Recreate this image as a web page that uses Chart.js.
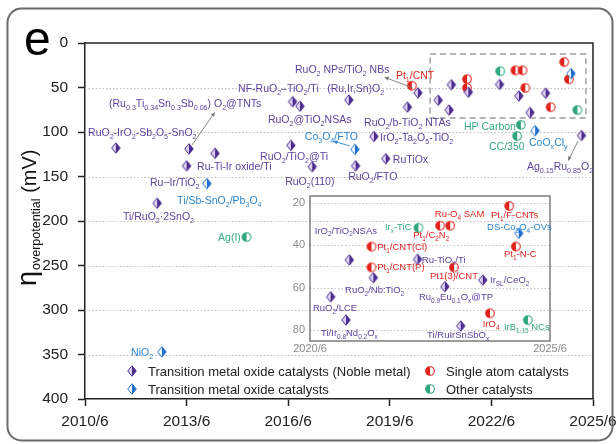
<!DOCTYPE html>
<html>
<head>
<meta charset="utf-8">
<script src="https://cdn.jsdelivr.net/npm/chart.js@4.4.1/dist/chart.umd.min.js"></script>
<style>
  html, body { margin: 0; padding: 0; background: #fff; }
  #wrap { position: relative; width: 616px; height: 444px; overflow: hidden; }
  #main { position: absolute; left: 0; top: 0; }
  #inset { position: absolute; left: 280px; top: 186px; }
</style>
</head>
<body>
<div id="wrap">
  <canvas id="main" width="616" height="444"></canvas>
  <canvas id="inset" width="300" height="176"></canvas>
</div>
<script>
// ---------------- data (date as decimal year, overpotential in mV) ----------------
const seriesLabels = [
  'Transition metal oxide catalysts (Noble metal)',
  'Transition metal oxide catalysts',
  'Single atom catalysts',
  'Other catalysts'
];

const nobleNames = ['RuO2-IrO2-Sb2O5-SnO2', '(Ru0.3Ti0.34Sn0.3Sb0.06)O2@TNTs', 'Ru-Ir/TiO2', 'Ru-Ti-Ir oxide/Ti',
  'Ti/RuO2·2SnO2', 'NF-RuO2-TiO2/Ti', 'RuO2@TiO2NSAs', 'RuO2/TiO2@Ti', 'RuO2(110)', '(Ru,Ir,Sn)O2', 'RuO2/FTO',
  'IrO2-Ta2O5-TiO2', 'RuTiOx', 'RuO2/b-TiO2 NTAs', 'RuO2 NPs/TiO2 NBs', 'RuO2/LCE', 'Ti/Ir0.8Nd0.2Ox',
  'IrO2/TiO2NSAs', 'RuO2/Nb:TiO2', 'Ru-TiOx/Ti', 'Ru0.9Eu0.1Ox@TP', 'Ti/RuIrSnSbOx', 'IrSL/CeO2', 'Ag0.15Ru0.85O2'];
const nobleDates = [2011.41, 2013.57, 2014.34, 2013.50, 2012.63, 2016.63, 2016.85, 2016.58, 2017.21, 2018.29, 2018.49,
  2019.03, 2019.38, 2020.02, 2020.33, 2020.93, 2021.25, 2021.32, 2021.82, 2022.74, 2023.31, 2023.64, 2024.10, 2025.16];
const nobleEta = [118, 119, 124, 138, 180, 66, 71, 115, 139, 64, 138,
  105, 130, 72, 56, 64.3, 75.3, 46.9, 55.3, 46.6, 59.5, 78.1, 56.4, 104];

const tmoNames = ['NiO2', 'Ti/Sb-SnO2/Pb3O4', 'Co3O4/FTO', 'CoOxCly', 'DS-Co3O4-OVs'];
const tmoDates = [2012.77, 2014.10, 2018.47, 2023.79, 2024.85];
const tmoEta = [347, 158, 119.5, 98.5, 34.3];

const sacNames = ['Pt1/CNT', 'Pt1/CNT(Cl)', 'Pt1/CNT(P)', 'Pt1/C2N2', 'Ru-O4 SAM', 'Pt1(3)/CNT', 'IrO4', 'Pt1/F-CNTs', 'Pt1-N-C'];
const sacDates = [2020.15, 2021.78, 2021.78, 2023.21, 2023.42, 2023.50, 2024.25, 2024.65, 2024.79];
const sacEta = [48, 40.6, 50.4, 30.7, 30.7, 50.4, 72.1, 21.4, 40.6];

const otherNames = ['Ag(I)', 'Irx-TiC', 'CC/350', 'HP Carbon', 'IrB1.15 NCs'];
const otherDates = [2015.27, 2022.76, 2023.26, 2023.37, 2025.04];
const otherEta = [218, 31.7, 104.5, 92, 75.3];

// axis ticks
const xTickDates = [2010.5, 2013.5, 2016.5, 2019.5, 2022.5, 2025.5];
const xTickLabels = ['2010/6', '2013/6', '2016/6', '2019/6', '2022/6', '2025/6'];
const yTickValues = [0, 50, 100, 150, 200, 250, 300, 350, 400];
const insetXTickDates = [2020.5, 2025.5];
const insetXTickLabels = ['2020/6', '2025/6'];
const insetYTickValues = [20, 40, 60, 80];

// ---------------- styling ----------------
const FONT = '"Liberation Sans", Arial, Helvetica, sans-serif';
const STYLE = {
  noble: { dark: '#4b2b8e', light: '#ddd3f1', text: '#5d429d' },
  tmo:   { dark: '#1f6fd1', light: '#ffffff', text: '#2b86cf' },
  sac:   { dark: '#e2231c', light: '#ffffff', text: '#e0251f' },
  other: { dark: '#2ea57e', light: '#ffffff', text: '#35a986' }
};

function diamondMarker(dark, light) {
  const w = 8.5, h = 10.5;
  const c = document.createElement('canvas');
  c.width = 12; c.height = 14;
  const g = c.getContext('2d');
  const cx = c.width / 2, cy = c.height / 2;
  const T = [cx, cy - h / 2], R = [cx + w / 2, cy], B = [cx, cy + h / 2], L = [cx - w / 2, cy];
  g.fillStyle = light;
  g.beginPath(); g.moveTo(T[0], T[1]); g.lineTo(B[0], B[1]); g.lineTo(L[0], L[1]); g.closePath(); g.fill();
  g.fillStyle = dark;
  g.beginPath(); g.moveTo(T[0], T[1]); g.lineTo(R[0], R[1]); g.lineTo(B[0], B[1]); g.closePath(); g.fill();
  g.strokeStyle = dark; g.lineWidth = 1;
  g.beginPath(); g.moveTo(T[0], T[1]); g.lineTo(R[0], R[1]); g.lineTo(B[0], B[1]); g.lineTo(L[0], L[1]); g.closePath(); g.stroke();
  return c;
}

function circleMarker(color) {
  const c = document.createElement('canvas');
  c.width = 12; c.height = 12;
  const g = c.getContext('2d');
  const cx = 6, cy = 6, r = 4.3;
  g.fillStyle = '#fff';
  g.beginPath(); g.arc(cx, cy, r, 0, Math.PI * 2); g.fill();
  g.fillStyle = color;
  g.beginPath(); g.arc(cx, cy, r, Math.PI / 2, Math.PI * 1.5); g.closePath(); g.fill();
  g.strokeStyle = color; g.lineWidth = 1.1;
  g.beginPath(); g.arc(cx, cy, r, 0, Math.PI * 2); g.stroke();
  return c;
}

const groups = [
  { label: seriesLabels[0], dates: nobleDates, eta: nobleEta, marker: diamondMarker(STYLE.noble.dark, STYLE.noble.light) },
  { label: seriesLabels[1], dates: tmoDates, eta: tmoEta, marker: diamondMarker(STYLE.tmo.dark, STYLE.tmo.light) },
  { label: seriesLabels[2], dates: sacDates, eta: sacEta, marker: circleMarker(STYLE.sac.dark) },
  { label: seriesLabels[3], dates: otherDates, eta: otherEta, marker: circleMarker(STYLE.other.dark) }
];

const INSET_X = [2020.5, 2025.5];
const INSET_Y = [16.7, 85.2];

function toPoints(dates, eta, keep) {
  const pts = dates.map((d, i) => ({ x: d, y: eta[i] }));
  return keep ? pts.filter(keep) : pts;
}

// text annotations: [text, date, eta, style]; "_{...}" marks a subscript
const mainNotes = [
  ['RuO_{2}-IrO_{2}-Sb_{2}O_{5}-SnO_{2}', 2010.59, 100, 'noble'],
  ['(Ru_{0.3}Ti_{0.34}Sn_{0.3}Sb_{0.06}) O_{2}@TNTs', 2011.21, 67.4, 'noble'],
  ['Ru-Ti-Ir oxide/Ti', 2013.81, 138.2, 'noble'],
  ['Ru\u2212Ir/TiO_{2}', 2012.42, 156.2, 'noble'],
  ['Ti/Sb-SnO_{2}/Pb_{3}O_{4}', 2013.22, 176.4, 'tmo'],
  ['Ti/RuO_{2}\u00b72SnO_{2}', 2011.62, 194.4, 'noble'],
  ['Ag(I)', 2014.43, 218, 'other'],
  ['NiO_{2}', 2011.86, 347.2, 'tmo'],
  ['NF-RuO_{2}\u2013TiO_{2}/Ti', 2015.02, 50.6, 'noble'],
  ['RuO_{2} NPs/TiO_{2} NBs', 2016.70, 29.2, 'noble'],
  ['(Ru,Ir,Sn)O_{2}', 2017.65, 50.6, 'noble'],
  ['Pt_{1}/CNT', 2019.68, 36, 'sac'],
  ['RuO_{2}@TiO_{2}NSAs', 2015.90, 85.4, 'noble'],
  ['RuO_{2}/b-TiO_{2} NTAs', 2018.74, 88.8, 'noble'],
  ['Co_{3}O_{4}/FTO', 2016.99, 104.5, 'tmo'],
  ['IrO_{2}-Ta_{2}O_{5}-TiO_{2}', 2019.21, 105.6, 'noble'],
  ['RuO_{2}/TiO_{2}@Ti', 2015.67, 127, 'noble'],
  ['RuO_{2}(110)', 2016.41, 155, 'noble'],
  ['RuO_{2}/FTO', 2018.27, 149.4, 'noble'],
  ['RuTiOx', 2019.59, 130.3, 'noble'],
  ['HP Carbon', 2021.69, 93.3, 'other'],
  ['CC/350', 2022.43, 115.7, 'other'],
  ['CoO_{x}Cl_{y}', 2023.61, 111.2, 'tmo'],
  ['Ag_{0.15}Ru_{0.85}O_{2}', 2023.55, 138.2, 'noble']
];

const insetNotes = [
  ['IrO_{2}/TiO_{2}NSAs', 2020.60, 32.8, 'noble'],
  ['Ir_{x}-TiC', 2022.06, 31.3, 'other'],
  ['Ru-O_{4} SAM', 2023.10, 25.2, 'sac'],
  ['Pt_{1}/C_{2}N_{2}', 2022.65, 35.1, 'sac'],
  ['Pt_{1}/F-CNTs', 2024.27, 25.7, 'sac'],
  ['DS-Co_{3}O_{4}-OVs', 2024.19, 31.3, 'tmo'],
  ['Pt_{1}-N-C', 2024.54, 44.1, 'sac'],
  ['Pt_{1}/CNT(Cl)', 2021.90, 40.8, 'sac'],
  ['Ru-TiO_{x}/Ti', 2022.83, 46.5, 'noble'],
  ['Pt_{1}/CNT(P)', 2021.90, 50.2, 'sac'],
  ['Pt1(3)/CNT', 2023.00, 54.5, 'sac'],
  ['RuO_{2}/Nb:TiO_{2}', 2021.23, 61.1, 'noble'],
  ['Ir_{SL}/CeO_{2}', 2024.25, 56.4, 'noble'],
  ['Ru_{0.9}Eu_{0.1}O_{x}@TP', 2022.77, 64.4, 'noble'],
  ['RuO_{2}/LCE', 2020.56, 69.6, 'noble'],
  ['Ti/Ir_{0.8}Nd_{0.2}O_{x}', 2020.73, 81.4, 'noble'],
  ['Ti/RuIrSnSbO_{x}', 2022.94, 82.4, 'noble'],
  ['IrO_{4}', 2024.10, 77.2, 'sac'],
  ['IrB_{1.15} NCs', 2024.54, 78.6, 'other']
];

// leader arrows: [fromDate, fromEta, toDate, toEta, colour]
const mainArrows = [
  [2013.66, 114.6, 2014.34, 77.5, '#7a7a7a'],
  [2020.18, 50.6, 2019.33, 38.2, '#7a7a7a'],
  [2018.32, 115.7, 2017.82, 110.1, '#2b86cf'],
  [2025.06, 110.1, 2024.76, 132.6, '#7a7a7a']
];

// region magnified in the inset
const zoomBox = { x0: 2020.69, x1: 2025.29, y0: 12.4, y1: 84.3 };

// ---------------- drawing helpers ----------------
function parseRich(s) {
  const parts = [];
  const re = /_\{([^}]*)\}/g;
  let last = 0, m;
  while ((m = re.exec(s))) {
    if (m.index > last) parts.push({ t: s.slice(last, m.index), sub: false });
    parts.push({ t: m[1], sub: true });
    last = re.lastIndex;
  }
  if (last < s.length) parts.push({ t: s.slice(last), sub: false });
  return parts;
}

function drawRich(ctx, s, x, yMid, size, color) {
  const parts = parseRich(s);
  const base = yMid + size * 0.36;
  ctx.save();
  ctx.fillStyle = color;
  ctx.textBaseline = 'alphabetic';
  ctx.textAlign = 'left';
  let cx = x;
  for (const p of parts) {
    const fs = p.sub ? size * 0.68 : size;
    ctx.font = fs + 'px ' + FONT;
    ctx.fillText(p.t, cx, base + (p.sub ? size * 0.28 : 0));
    cx += ctx.measureText(p.t).width;
  }
  ctx.restore();
}

function drawArrow(ctx, x0, y0, x1, y1, color) {
  const a = Math.atan2(y1 - y0, x1 - x0);
  ctx.save();
  ctx.strokeStyle = color; ctx.fillStyle = color; ctx.lineWidth = 0.9;
  ctx.beginPath(); ctx.moveTo(x0, y0); ctx.lineTo(x1 - 3 * Math.cos(a), y1 - 3 * Math.sin(a)); ctx.stroke();
  ctx.beginPath();
  ctx.moveTo(x1, y1);
  ctx.lineTo(x1 - 5 * Math.cos(a - 0.4), y1 - 5 * Math.sin(a - 0.4));
  ctx.lineTo(x1 - 5 * Math.cos(a + 0.4), y1 - 5 * Math.sin(a + 0.4));
  ctx.closePath(); ctx.fill();
  ctx.restore();
}

function dottedHLines(chart, values, color) {
  const { ctx, chartArea: a, scales: { y } } = chart;
  ctx.save();
  ctx.strokeStyle = color; ctx.lineWidth = 1; ctx.setLineDash([1.5, 2]);
  for (const v of values) {
    const py = Math.round(y.getPixelForValue(v)) + 0.5;
    ctx.beginPath(); ctx.moveTo(a.left, py); ctx.lineTo(a.right, py); ctx.stroke();
  }
  ctx.restore();
}

// ---------------- main chart ----------------
const mainDecor = {
  id: 'mainDecor',
  beforeDatasetsDraw(chart) {
    const { ctx, scales: { x, y } } = chart;
    dottedHLines(chart, yTickValues.filter(v => v > y.min && v < y.max), '#bdbdbd');
    // dashed frame of the magnified region
    ctx.save();
    ctx.strokeStyle = '#9a9a9a'; ctx.lineWidth = 1.4; ctx.setLineDash([6, 4]);
    const l = x.getPixelForValue(zoomBox.x0), r = x.getPixelForValue(zoomBox.x1);
    const t = y.getPixelForValue(zoomBox.y0), b = y.getPixelForValue(zoomBox.y1);
    ctx.strokeRect(l, t, r - l, b - t);
    ctx.restore();
  },
  afterDraw(chart) {
    const { ctx, chartArea: a, scales: { x, y } } = chart;
    // top and right frame
    ctx.save();
    ctx.strokeStyle = '#222'; ctx.lineWidth = 1.5;
    ctx.beginPath(); ctx.moveTo(a.left, a.top); ctx.lineTo(a.right, a.top); ctx.lineTo(a.right, a.bottom); ctx.stroke();
    ctx.restore();

    for (const [x0, y0, x1, y1, c] of mainArrows) {
      drawArrow(ctx, x.getPixelForValue(x0), y.getPixelForValue(y0), x.getPixelForValue(x1), y.getPixelForValue(y1), c);
    }
    for (const [t, d, v, s] of mainNotes) {
      drawRich(ctx, t, x.getPixelForValue(d), y.getPixelForValue(v), 10.5, STYLE[s].text);
    }

    // legend
    const rows = [[a.left + 47, 371, 0], [a.left + 47, 389, 1], [a.left + 345, 371, 2], [a.left + 345, 389, 3]];
    ctx.save();
    ctx.font = '13px ' + FONT; ctx.fillStyle = '#222'; ctx.textBaseline = 'middle'; ctx.textAlign = 'left';
    for (const [mx, my, i] of rows) {
      const m = groups[i].marker;
      ctx.drawImage(m, Math.round(mx - m.width / 2), Math.round(my - m.height / 2));
      ctx.fillText(chart.data.datasets[i].label, mx + 16, my + 1);
    }
    ctx.restore();

    // y-axis title: η_overpotential (mV)
    ctx.save();
    ctx.translate(36, 286);
    ctx.rotate(-Math.PI / 2);
    ctx.fillStyle = '#111'; ctx.textBaseline = 'alphabetic'; ctx.textAlign = 'left';
    ctx.font = '27px ' + FONT;
    ctx.fillText('\u03b7', 0, 0);
    let cx = ctx.measureText('\u03b7').width + 1;
    ctx.font = '12.5px ' + FONT;
    ctx.fillText('overpotential', cx, 4);
    cx += ctx.measureText('overpotential').width;
    ctx.font = '20px ' + FONT;
    ctx.fillText(' (mV)', cx, 0);
    ctx.restore();

    // panel letter
    ctx.save();
    ctx.font = '48px ' + FONT; ctx.fillStyle = '#000'; ctx.textBaseline = 'alphabetic';
    ctx.fillText('e', 24, 55);
    ctx.restore();

    // rounded panel frame
    ctx.save();
    ctx.strokeStyle = '#6a6a6a'; ctx.lineWidth = 2;
    ctx.beginPath(); ctx.roundRect(7.5, 8.5, 605, 432, 14); ctx.stroke();
    ctx.restore();
  }
};

new Chart(document.getElementById('main'), {
  type: 'scatter',
  data: {
    datasets: groups.map(g => ({
      label: g.label, data: toPoints(g.dates, g.eta), pointStyle: g.marker, pointRadius: 5, showLine: false
    }))
  },
  options: {
    responsive: false, animation: false, devicePixelRatio: 1,
    layout: { padding: { left: 0, top: 43, right: 23, bottom: 0 } },
    plugins: { legend: { display: false }, tooltip: { enabled: false } },
    scales: {
      x: {
        type: 'linear', min: 2010.5, max: 2025.5,
        afterBuildTicks: s => { s.ticks = xTickDates.map(v => ({ value: v })); },
        afterFit: s => { s.height = 45; s.paddingLeft = 0; s.paddingRight = 0; },
        ticks: {
          callback: v => xTickLabels[xTickDates.indexOf(v)],
          font: { size: 15.5, family: FONT }, color: '#222', padding: 6, maxRotation: 0, autoSkip: false
        },
        grid: { drawOnChartArea: false, drawTicks: true, tickLength: 7, tickWidth: 1.5, tickColor: '#222' },
        border: { display: true, color: '#222', width: 1.5 }
      },
      y: {
        type: 'linear', reverse: true, min: 0, max: 400,
        afterBuildTicks: s => { s.ticks = yTickValues.map(v => ({ value: v })); },
        afterFit: s => { s.width = 85; s.paddingTop = 0; s.paddingBottom = 0; },
        ticks: { font: { size: 15.5, family: FONT }, color: '#222', padding: 10 },
        grid: { drawOnChartArea: false, drawTicks: true, tickLength: 7, tickWidth: 1.5, tickColor: '#222' },
        border: { display: true, color: '#222', width: 1.5 }
      }
    }
  },
  plugins: [mainDecor]
});

// ---------------- inset ----------------
const inRange = p => p.x >= INSET_X[0] && p.x <= INSET_X[1] && p.y >= INSET_Y[0] && p.y <= INSET_Y[1];

const insetDecor = {
  id: 'insetDecor',
  beforeDatasetsDraw(chart) {
    dottedHLines(chart, insetYTickValues, '#c4c4c4');
  },
  afterDraw(chart) {
    const { ctx, chartArea: a, scales: { x, y } } = chart;
    ctx.save();
    ctx.strokeStyle = '#7c7c7c'; ctx.lineWidth = 1.5;
    ctx.strokeRect(a.left, a.top, a.right - a.left, a.bottom - a.top);
    ctx.restore();
    for (const [t, d, v, s] of insetNotes) {
      drawRich(ctx, t, x.getPixelForValue(d), y.getPixelForValue(v), 9.5, STYLE[s].text);
    }
  }
};

new Chart(document.getElementById('inset'), {
  type: 'scatter',
  data: {
    datasets: groups.map(g => ({
      label: g.label, data: toPoints(g.dates, g.eta, inRange), pointStyle: g.marker, pointRadius: 5, showLine: false
    }))
  },
  options: {
    responsive: false, animation: false, devicePixelRatio: 1,
    layout: { padding: { left: 0, top: 10, right: 30, bottom: 0 } },
    plugins: { legend: { display: false }, tooltip: { enabled: false } },
    scales: {
      x: {
        type: 'linear', min: INSET_X[0], max: INSET_X[1],
        afterBuildTicks: s => { s.ticks = insetXTickDates.map(v => ({ value: v })); },
        afterFit: s => { s.height = 21; s.paddingLeft = 0; s.paddingRight = 0; },
        ticks: {
          callback: v => insetXTickLabels[insetXTickDates.indexOf(v)],
          font: { size: 11, family: FONT }, color: '#8a8a8a', padding: 1.5, maxRotation: 0, autoSkip: false
        },
        grid: { drawOnChartArea: false, drawTicks: false },
        border: { display: false }
      },
      y: {
        type: 'linear', reverse: true, min: INSET_Y[0], max: INSET_Y[1],
        afterBuildTicks: s => { s.ticks = insetYTickValues.map(v => ({ value: v })); },
        afterFit: s => { s.width = 30; s.paddingTop = 0; s.paddingBottom = 0; },
        ticks: { font: { size: 11, family: FONT }, color: '#8a8a8a', padding: 5 },
        grid: { drawOnChartArea: false, drawTicks: false },
        border: { display: false }
      }
    }
  },
  plugins: [insetDecor]
});
</script>
</body>
</html>
